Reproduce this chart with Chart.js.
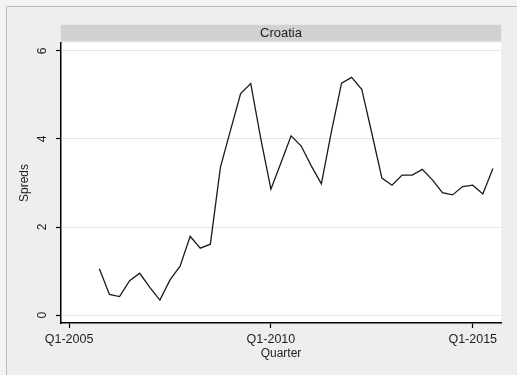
<!DOCTYPE html>
<html>
<head>
<meta charset="utf-8">
<script src="https://cdn.jsdelivr.net/npm/chart.js@4/dist/chart.umd.min.js"></script>
<style>
  html, body { margin: 0; padding: 0; background: #f3f3f3; }
  canvas { display: block; }
</style>
</head>
<body>
<canvas id="chart" width="517" height="375"></canvas>
<script>
// Quarterly spreads for Croatia
const panelTitle = 'Croatia';
const quarters = [
  'Q4-2005',
  'Q1-2006', 'Q2-2006', 'Q3-2006', 'Q4-2006',
  'Q1-2007', 'Q2-2007', 'Q3-2007', 'Q4-2007',
  'Q1-2008', 'Q2-2008', 'Q3-2008', 'Q4-2008',
  'Q1-2009', 'Q2-2009', 'Q3-2009', 'Q4-2009',
  'Q1-2010', 'Q2-2010', 'Q3-2010', 'Q4-2010',
  'Q1-2011', 'Q2-2011', 'Q3-2011', 'Q4-2011',
  'Q1-2012', 'Q2-2012', 'Q3-2012', 'Q4-2012',
  'Q1-2013', 'Q2-2013', 'Q3-2013', 'Q4-2013',
  'Q1-2014', 'Q2-2014', 'Q3-2014', 'Q4-2014',
  'Q1-2015', 'Q2-2015', 'Q3-2015'
];
const spreads = [
  1.05,
  0.47, 0.42, 0.78, 0.95,
  0.63, 0.34, 0.80, 1.11,
  1.79, 1.52, 1.61, 3.36,
  4.20, 5.03, 5.26, 4.00,
  2.86, 3.46, 4.07, 3.84,
  3.39, 2.98, 4.17, 5.27,
  5.40, 5.13, 4.13, 3.11,
  2.95, 3.18, 3.18, 3.31,
  3.07, 2.78, 2.73, 2.92,
  2.95, 2.75, 3.33
];
const xTickLabels = ['Q1-2005', 'Q1-2010', 'Q1-2015'];
const yTickValues = [0, 2, 4, 6];
const yTitle = 'Spreds';
const xTitle = 'Quarter';

// quarter label -> running quarter number counted from Q1-2005
const BASE_YEAR = 2005;
function quarterNumber(label) {
  const m = /^Q(\d)-(\d{4})$/.exec(label);
  return (Number(m[2]) - BASE_YEAR) * 4 + Number(m[1]) - 1;
}
const xTickValues = xTickLabels.map(quarterNumber);
const points = quarters.map((q, i) => ({ x: quarterNumber(q), y: spreads[i] }));

const FONT = 'Liberation Sans, Arial, sans-serif';
const TEXT = '#1e1e1e';

// Stata-like panel: grey page, header strip, white plot region, rotated y labels
const panelDecor = {
  id: 'panelDecor',
  beforeDraw(chart) {
    const { ctx, chartArea: a, width, height } = chart;
    ctx.save();
    ctx.fillStyle = '#f3f3f3';
    ctx.fillRect(0, 0, width, height);
    ctx.fillStyle = '#eeeeee';
    ctx.fillRect(6, 6, width - 6, height - 6);
    ctx.strokeStyle = '#bcbcbc';
    ctx.lineWidth = 1;
    ctx.beginPath();
    ctx.moveTo(6.5, height);
    ctx.lineTo(6.5, 6.5);
    ctx.lineTo(width, 6.5);
    ctx.stroke();

    // header strip
    const hx = a.left - 1, hy = 24, hw = a.right - a.left + 2, hh = 18;
    ctx.fillStyle = '#d1d1d1';
    ctx.fillRect(hx, hy, hw, hh);
    ctx.strokeStyle = '#e2eaef';
    ctx.strokeRect(hx + 0.5, hy + 0.5, hw - 1, hh - 1);
    ctx.fillStyle = TEXT;
    ctx.font = '13px ' + FONT;
    ctx.textAlign = 'center';
    ctx.textBaseline = 'middle';
    ctx.fillText(panelTitle, (a.left + a.right) / 2, hy + hh / 2 + 0.5);

    // plot region
    ctx.fillStyle = '#ffffff';
    ctx.fillRect(a.left, a.top, a.right - a.left, a.bottom - a.top);
    ctx.restore();
  },
  afterDraw(chart) {
    const { ctx, chartArea: a } = chart;
    const y = chart.scales.y;
    ctx.save();
    ctx.fillStyle = TEXT;
    ctx.font = '12px ' + FONT;
    ctx.textAlign = 'center';
    ctx.textBaseline = 'middle';
    yTickValues.forEach(v => {
      ctx.save();
      ctx.translate(43, y.getPixelForValue(v));
      ctx.rotate(-Math.PI / 2);
      ctx.fillText(String(v), 0, 0);
      ctx.restore();
    });
    ctx.save();
    ctx.translate(25, (a.top + a.bottom) / 2);
    ctx.rotate(-Math.PI / 2);
    ctx.fillText(yTitle, 0, 0);
    ctx.restore();
    ctx.fillText(xTitle, (a.left + a.right) / 2, 354);
    ctx.restore();
  }
};

new Chart(document.getElementById('chart'), {
  type: 'line',
  data: {
    datasets: [{
      data: points,
      borderColor: '#1a1a1a',
      borderWidth: 1.3,
      pointRadius: 0,
      tension: 0,
      fill: false
    }]
  },
  options: {
    responsive: false,
    animation: false,
    devicePixelRatio: 1,
    layout: { padding: { left: 61, top: 43, right: 16, bottom: 0 } },
    plugins: { legend: { display: false }, tooltip: { enabled: false }, title: { display: false } },
    scales: {
      x: {
        type: 'linear',
        min: -0.8,
        max: 42.8,
        afterBuildTicks: s => { s.ticks = xTickValues.map(v => ({ value: v })); },
        afterFit: s => { s.height = 52; },
        ticks: {
          autoSkip: false,
          maxRotation: 0,
          padding: 4,
          color: TEXT,
          font: { family: FONT, size: 12.5 },
          callback: v => xTickLabels[xTickValues.indexOf(v)]
        },
        grid: { drawOnChartArea: false, drawTicks: true, tickLength: 5, tickColor: '#000', tickWidth: 1.2 },
        border: { display: true, color: '#000', width: 1.5 }
      },
      y: {
        type: 'linear',
        min: -0.18,
        max: 6.18,
        afterBuildTicks: s => { s.ticks = yTickValues.map(v => ({ value: v })); },
        afterFit: s => { s.width = 0; },
        ticks: { display: false },
        grid: { color: '#e4e4e4', lineWidth: 1, drawTicks: true, tickLength: 5, tickColor: '#000', tickWidth: 1.2 },
        border: { display: true, color: '#000', width: 1.5 }
      }
    }
  },
  plugins: [panelDecor]
});
</script>
</body>
</html>
